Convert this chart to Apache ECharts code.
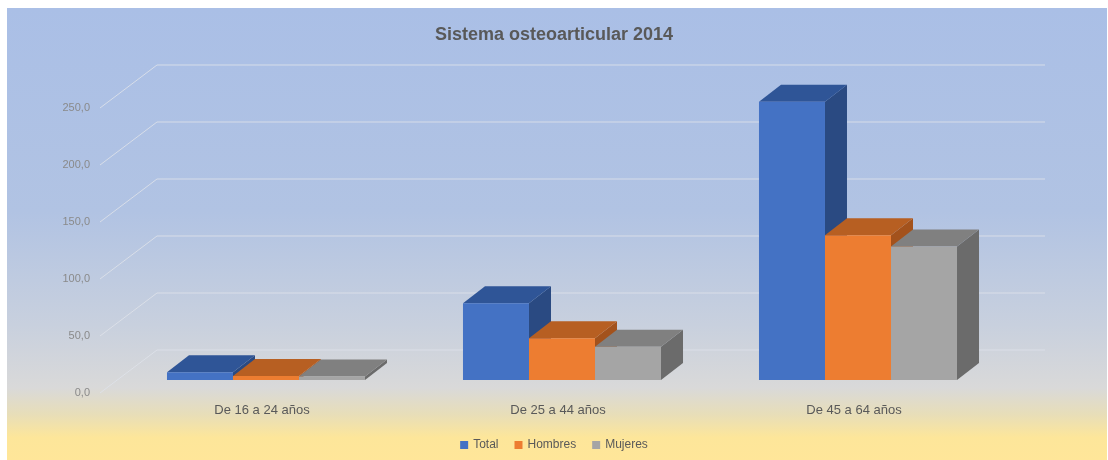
<!DOCTYPE html>
<html>
<head>
<meta charset="utf-8">
<script src="https://cdn.jsdelivr.net/npm/echarts@6/dist/echarts.min.js"></script>
<style>
  html, body { margin: 0; padding: 0; background: #fff; }
  .wrap { position: relative; width: 1108px; height: 460px; }
  .bg {
    position: absolute; left: 7px; top: 8px; width: 1100px; height: 452px;
    background: linear-gradient(to bottom, #aabfe6 0%, #b1c3e3 45%, #c8d0de 70%, #d9d9d9 84%, #e8deb8 90%, #fde69a 95%, #ffe699 100%);
  }
  #main { position: absolute; left: 0; top: 0; width: 1108px; height: 460px; }
</style>
</head>
<body>
<div class="wrap">
  <div class="bg"></div>
  <div id="main"></div>
</div>
<script>
var categories = ["De 16 a 24 años", "De 25 a 44 años", "De 45 a 64 años"];
var total = [6.7, 67.3, 244.0];
var hombres = [3.5, 36.6, 127.0];
var mujeres = [3.0, 29.2, 117.0];
var yTicks = [0, 50, 100, 150, 200, 250];

// fake 3d: depth of the floor and of each column, in pixels
var FLOOR = { x: 57, y: -43 };
var BAR_SHIFT = { x: 18, y: -13 };
var BAR_DEPTH = { x: 22, y: -17 };

var colors = [
  { front: "#4472c4", top: "#2f5597", side: "#2a4a82" },
  { front: "#ed7d31", top: "#b75f22", side: "#a3521c" },
  { front: "#a5a5a5", top: "#808080", side: "#6b6b6b" }
];

function bar3d(slot) {
  var c = colors[slot];
  return function (params, api) {
    var cat = api.value(0);
    var base = api.coord([cat, 0]);
    var top = api.coord([cat, api.value(1)]);
    var w = api.size([1, 0])[0] * 0.223;
    var x0 = base[0] + (slot - 1.5) * w + BAR_SHIFT.x;
    var x1 = x0 + w;
    var by = base[1] + BAR_SHIFT.y;
    var ty = top[1] + BAR_SHIFT.y;
    var dx = BAR_DEPTH.x, dy = BAR_DEPTH.y;
    return {
      type: "group",
      children: [
        { type: "polygon", shape: { points: [[x1, ty], [x1 + dx, ty + dy], [x1 + dx, by + dy], [x1, by]] }, style: { fill: c.side } },
        { type: "polygon", shape: { points: [[x0, ty], [x1, ty], [x1 + dx, ty + dy], [x0 + dx, ty + dy]] }, style: { fill: c.top } },
        { type: "rect", shape: { x: x0, y: ty, width: w, height: by - ty }, style: { fill: c.front } }
      ]
    };
  };
}

function wallLine(params, api) {
  var y = api.coord([0, api.value(1)])[1];
  var cs = params.coordSys;
  return {
    type: "polyline",
    shape: { points: [[cs.x, y], [cs.x + FLOOR.x, y + FLOOR.y], [cs.x + cs.width + FLOOR.x, y + FLOOR.y]] },
    style: { stroke: "rgba(222,226,234,0.85)", lineWidth: 1, fill: null }
  };
}

function pairs(arr) {
  return arr.map(function (v, i) { return [i, v]; });
}

var chart = echarts.init(document.getElementById("main"));
chart.setOption({
  backgroundColor: "transparent",
  animation: false,
  title: {
    text: "Sistema osteoarticular 2014",
    left: "center",
    top: 21,
    textStyle: { fontFamily: "Liberation Sans Narrow, Liberation Sans", fontWeight: "bold", fontSize: 18, color: "#595959" }
  },
  legend: {
    data: ["Total", "Hombres", "Mujeres"],
    left: "center",
    top: 434,
    icon: "rect",
    itemWidth: 8,
    itemHeight: 8,
    itemGap: 16,
    textStyle: { fontFamily: "Liberation Sans", fontSize: 12, color: "#595959" }
  },
  grid: { left: 100, right: 120, top: 108, bottom: 67 },
  xAxis: {
    type: "category",
    data: categories,
    axisLine: { show: false },
    axisTick: { show: false },
    axisLabel: { margin: 11, padding: [0, 0, 0, 28], fontFamily: "Liberation Sans", fontSize: 13, color: "#595959" }
  },
  yAxis: {
    type: "value",
    min: 0,
    max: 250,
    interval: 50,
    splitLine: { show: false },
    axisLine: { show: false },
    axisTick: { show: false },
    axisLabel: {
      margin: 10,
      fontFamily: "Liberation Sans",
      fontSize: 11,
      color: "#8a8a8a",
      formatter: function (v) { return v.toFixed(1).replace(".", ","); }
    }
  },
  series: [
    { type: "custom", name: "grid", renderItem: wallLine, data: yTicks.map(function (v) { return [0, v]; }), silent: true, z: 1 },
    { type: "custom", name: "Total", renderItem: bar3d(0), data: pairs(total), itemStyle: { color: colors[0].front }, z: 2 },
    { type: "custom", name: "Hombres", renderItem: bar3d(1), data: pairs(hombres), itemStyle: { color: colors[1].front }, z: 2 },
    { type: "custom", name: "Mujeres", renderItem: bar3d(2), data: pairs(mujeres), itemStyle: { color: colors[2].front }, z: 2 }
  ]
});
</script>
</body>
</html>
